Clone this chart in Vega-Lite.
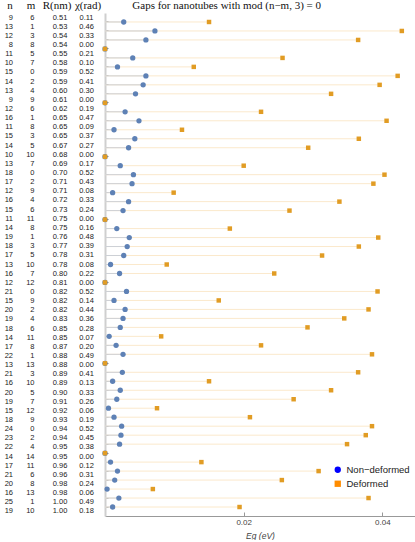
{
  "$schema": "https://vega.github.io/schema/vega-lite/v6.json",
  "padding": {"left": 0, "top": 0, "right": 0, "bottom": 0},
  "config": {
    "view": {"stroke": null},
    "concat": {"spacing": 0},
    "font": "Liberation Sans",
    "title": {"font": "Liberation Serif", "fontSize": 11, "fontWeight": "normal", "color": "#111", "offset": 2}
  },
  "datasets": {
    "t": [
      {"i":1,"n":9,"m":6,"R":0.51,"chi":0.11,"Non-deformed":0.0027,"Deformed":0.0150},
      {"i":2,"n":13,"m":1,"R":0.53,"chi":0.46,"Non-deformed":0.0072,"Deformed":0.0428},
      {"i":3,"n":12,"m":3,"R":0.54,"chi":0.33,"Non-deformed":0.0059,"Deformed":0.0365},
      {"i":4,"n":8,"m":8,"R":0.54,"chi":0.00,"Non-deformed":0,"Deformed":0},
      {"i":5,"n":11,"m":5,"R":0.55,"chi":0.21,"Non-deformed":0.0040,"Deformed":0.0256},
      {"i":6,"n":10,"m":7,"R":0.58,"chi":0.10,"Non-deformed":0.0018,"Deformed":0.0128},
      {"i":7,"n":15,"m":0,"R":0.59,"chi":0.52,"Non-deformed":0.0059,"Deformed":0.0422},
      {"i":8,"n":14,"m":2,"R":0.59,"chi":0.41,"Non-deformed":0.0055,"Deformed":0.0396},
      {"i":9,"n":13,"m":4,"R":0.60,"chi":0.30,"Non-deformed":0.0044,"Deformed":0.0326},
      {"i":10,"n":9,"m":9,"R":0.61,"chi":0.00,"Non-deformed":0,"Deformed":0},
      {"i":11,"n":12,"m":6,"R":0.62,"chi":0.19,"Non-deformed":0.0029,"Deformed":0.0225},
      {"i":12,"n":16,"m":1,"R":0.65,"chi":0.47,"Non-deformed":0.0049,"Deformed":0.0406},
      {"i":13,"n":11,"m":8,"R":0.65,"chi":0.09,"Non-deformed":0.0013,"Deformed":0.0111},
      {"i":14,"n":15,"m":3,"R":0.65,"chi":0.37,"Non-deformed":0.0043,"Deformed":0.0366},
      {"i":15,"n":14,"m":5,"R":0.67,"chi":0.27,"Non-deformed":0.0034,"Deformed":0.0293},
      {"i":16,"n":10,"m":10,"R":0.68,"chi":0.00,"Non-deformed":0,"Deformed":0},
      {"i":17,"n":13,"m":7,"R":0.69,"chi":0.17,"Non-deformed":0.0022,"Deformed":0.0200},
      {"i":18,"n":18,"m":0,"R":0.70,"chi":0.52,"Non-deformed":0.0041,"Deformed":0.0403},
      {"i":19,"n":17,"m":2,"R":0.71,"chi":0.43,"Non-deformed":0.0039,"Deformed":0.0387},
      {"i":20,"n":12,"m":9,"R":0.71,"chi":0.08,"Non-deformed":0.0011,"Deformed":0.0099},
      {"i":21,"n":16,"m":4,"R":0.72,"chi":0.33,"Non-deformed":0.0034,"Deformed":0.0338},
      {"i":22,"n":15,"m":6,"R":0.73,"chi":0.24,"Non-deformed":0.0026,"Deformed":0.0266},
      {"i":23,"n":11,"m":11,"R":0.75,"chi":0.00,"Non-deformed":0,"Deformed":0},
      {"i":24,"n":14,"m":8,"R":0.75,"chi":0.16,"Non-deformed":0.0017,"Deformed":0.0180},
      {"i":25,"n":19,"m":1,"R":0.76,"chi":0.48,"Non-deformed":0.0035,"Deformed":0.0394},
      {"i":26,"n":18,"m":3,"R":0.77,"chi":0.39,"Non-deformed":0.0032,"Deformed":0.0366},
      {"i":27,"n":17,"m":5,"R":0.78,"chi":0.31,"Non-deformed":0.0027,"Deformed":0.0313},
      {"i":28,"n":13,"m":10,"R":0.78,"chi":0.08,"Non-deformed":0.0008,"Deformed":0.0089},
      {"i":29,"n":16,"m":7,"R":0.80,"chi":0.22,"Non-deformed":0.0021,"Deformed":0.0244},
      {"i":30,"n":12,"m":12,"R":0.81,"chi":0.00,"Non-deformed":0,"Deformed":0},
      {"i":31,"n":21,"m":0,"R":0.82,"chi":0.52,"Non-deformed":0.0031,"Deformed":0.0393},
      {"i":32,"n":15,"m":9,"R":0.82,"chi":0.14,"Non-deformed":0.0013,"Deformed":0.0164},
      {"i":33,"n":20,"m":2,"R":0.82,"chi":0.44,"Non-deformed":0.0029,"Deformed":0.0380},
      {"i":34,"n":19,"m":4,"R":0.83,"chi":0.36,"Non-deformed":0.0026,"Deformed":0.0345},
      {"i":35,"n":18,"m":6,"R":0.85,"chi":0.28,"Non-deformed":0.0022,"Deformed":0.0292},
      {"i":36,"n":14,"m":11,"R":0.85,"chi":0.07,"Non-deformed":0.0006,"Deformed":0.0081},
      {"i":37,"n":17,"m":8,"R":0.87,"chi":0.20,"Non-deformed":0.0016,"Deformed":0.0225},
      {"i":38,"n":22,"m":1,"R":0.88,"chi":0.49,"Non-deformed":0.0026,"Deformed":0.0385},
      {"i":39,"n":13,"m":13,"R":0.88,"chi":0.00,"Non-deformed":0,"Deformed":0},
      {"i":40,"n":21,"m":3,"R":0.89,"chi":0.41,"Non-deformed":0.0025,"Deformed":0.0365},
      {"i":41,"n":16,"m":10,"R":0.89,"chi":0.13,"Non-deformed":0.0011,"Deformed":0.0150},
      {"i":42,"n":20,"m":5,"R":0.90,"chi":0.33,"Non-deformed":0.0022,"Deformed":0.0326},
      {"i":43,"n":19,"m":7,"R":0.91,"chi":0.26,"Non-deformed":0.0017,"Deformed":0.0272},
      {"i":44,"n":15,"m":12,"R":0.92,"chi":0.06,"Non-deformed":0.0005,"Deformed":0.0075},
      {"i":45,"n":18,"m":9,"R":0.93,"chi":0.19,"Non-deformed":0.0013,"Deformed":0.0209},
      {"i":46,"n":24,"m":0,"R":0.94,"chi":0.52,"Non-deformed":0.0024,"Deformed":0.0385},
      {"i":47,"n":23,"m":2,"R":0.94,"chi":0.45,"Non-deformed":0.0023,"Deformed":0.0376},
      {"i":48,"n":22,"m":4,"R":0.95,"chi":0.38,"Non-deformed":0.0021,"Deformed":0.0349},
      {"i":49,"n":14,"m":14,"R":0.95,"chi":0.00,"Non-deformed":0,"Deformed":0},
      {"i":50,"n":17,"m":11,"R":0.96,"chi":0.12,"Non-deformed":0.0008,"Deformed":0.0139},
      {"i":51,"n":21,"m":6,"R":0.96,"chi":0.31,"Non-deformed":0.0018,"Deformed":0.0308},
      {"i":52,"n":20,"m":8,"R":0.98,"chi":0.24,"Non-deformed":0.0014,"Deformed":0.0255},
      {"i":53,"n":16,"m":13,"R":0.98,"chi":0.06,"Non-deformed":0.0003,"Deformed":0.0069},
      {"i":54,"n":25,"m":1,"R":1.00,"chi":0.49,"Non-deformed":0.0020,"Deformed":0.0380},
      {"i":55,"n":19,"m":10,"R":1.00,"chi":0.18,"Non-deformed":0.0011,"Deformed":0.0194}
    ]
  },
  "data": {"name": "t"},
  "hconcat": [
    {
      "width": 26, "height": 503,
      "title": {"text": "n", "anchor": "middle", "dx": -3},
      "mark": {"type": "text", "align": "right", "baseline": "middle", "fontSize": 7.5, "color": "#222"},
      "encoding": {
        "y": {"field": "i", "type": "ordinal", "axis": null, "scale": {"paddingInner": 0, "paddingOuter": 0.5}},
        "text": {"field": "n", "type": "quantitative"}
      }
    },
    {
      "width": 12, "height": 503,
      "title": {"text": "m", "anchor": "middle", "dx": -5},
      "mark": {"type": "text", "align": "right", "baseline": "middle", "fontSize": 7.5, "color": "#222", "dx": -1.5},
      "encoding": {
        "y": {"field": "i", "type": "ordinal", "axis": null, "scale": {"paddingInner": 0, "paddingOuter": 0.5}},
        "text": {"field": "m", "type": "quantitative"}
      }
    },
    {
      "width": 24, "height": 503,
      "title": {"text": "R(nm)", "anchor": "middle", "dx": -3},
      "mark": {"type": "text", "align": "center", "baseline": "middle", "fontSize": 7.5, "color": "#222"},
      "encoding": {
        "y": {"field": "i", "type": "ordinal", "axis": null, "scale": {"paddingInner": 0, "paddingOuter": 0.5}},
        "text": {"field": "R", "type": "quantitative", "format": ".2f"}
      }
    },
    {
      "width": 29, "height": 503,
      "title": {"text": "χ(rad)", "anchor": "middle", "dx": 1.5},
      "mark": {"type": "text", "align": "center", "baseline": "middle", "fontSize": 7.5, "color": "#222"},
      "encoding": {
        "y": {"field": "i", "type": "ordinal", "axis": null, "scale": {"paddingInner": 0, "paddingOuter": 0.5}},
        "text": {"field": "chi", "type": "quantitative", "format": ".2f"}
      }
    },
    {
      "width": 310, "height": 503,
      "title": {"text": "Gaps for nanotubes with mod (n−m, 3) = 0", "anchor": "start", "dx": 30},
      "layer": [
        {
          "mark": {"type": "rule", "color": "#fbe9cc", "strokeWidth": 1},
          "encoding": {
            "y": {"field": "i", "type": "ordinal", "scale": {"paddingInner": 0, "paddingOuter": 0.5},
                  "axis": {"labels": false, "title": null, "domainColor": "#cfcfcf", "domainWidth": 2, "tickSize": -3, "tickColor": "#888888", "tickWidth": 1}},
            "x": {"field": "Deformed", "type": "quantitative", "scale": {"domain": [0, 0.0447], "nice": false},
                  "axis": {"values": [0.02, 0.04], "format": ".2f", "grid": false, "title": "Eg (eV)",
                           "domainColor": "#999999", "tickColor": "#999999", "tickSize": -4,
                           "labelFontSize": 8, "labelColor": "#444", "labelPadding": 6,
                           "titleFontSize": 8.5, "titleFontWeight": "normal", "titleColor": "#444", "titleFontStyle": "italic", "titlePadding": 5}},
            "x2": {"datum": 0}
          }
        },
        {
          "mark": {"type": "rule", "color": "#cdd0d6", "strokeWidth": 1},
          "encoding": {
            "y": {"field": "i", "type": "ordinal"},
            "x": {"field": "Non-deformed", "type": "quantitative"},
            "x2": {"datum": 0}
          }
        },
        {
          "transform": [{"fold": ["Non-deformed", "Deformed"], "as": ["series", "gap"]}, {"filter": "datum.gap < 0"}],
          "mark": {"type": "point", "filled": true, "opacity": 1, "size": 22},
          "encoding": {
            "y": {"field": "i", "type": "ordinal"},
            "x": {"field": "gap", "type": "quantitative"},
            "color": {"field": "series", "type": "nominal",
                      "scale": {"domain": ["Non-deformed", "Deformed"], "range": ["#0000ff", "#ff8c00"]},
                      "legend": {"orient": "none", "legendX": 333, "legendY": 452, "title": null,
                                 "labelFont": "Liberation Sans", "labelFontSize": 9.5, "labelColor": "#222",
                                 "symbolSize": 40, "rowPadding": 3,
                                 "labelExpr": "datum.label == 'Non-deformed' ? 'Non−deformed' : datum.label"}},
            "shape": {"field": "series", "type": "nominal",
                      "scale": {"domain": ["Non-deformed", "Deformed"], "range": ["circle", "square"]}}
          }
        },
        {
          "mark": {"type": "point", "filled": true, "opacity": 1, "size": 28, "shape": "circle", "color": "#5e81b5"},
          "encoding": {
            "y": {"field": "i", "type": "ordinal"},
            "x": {"field": "Non-deformed", "type": "quantitative"}
          }
        },
        {
          "mark": {"type": "point", "filled": true, "opacity": 1, "size": 20, "shape": "square", "color": "#e19c24"},
          "encoding": {
            "y": {"field": "i", "type": "ordinal"},
            "x": {"field": "Deformed", "type": "quantitative"}
          }
        }
      ]
    }
  ]
}
